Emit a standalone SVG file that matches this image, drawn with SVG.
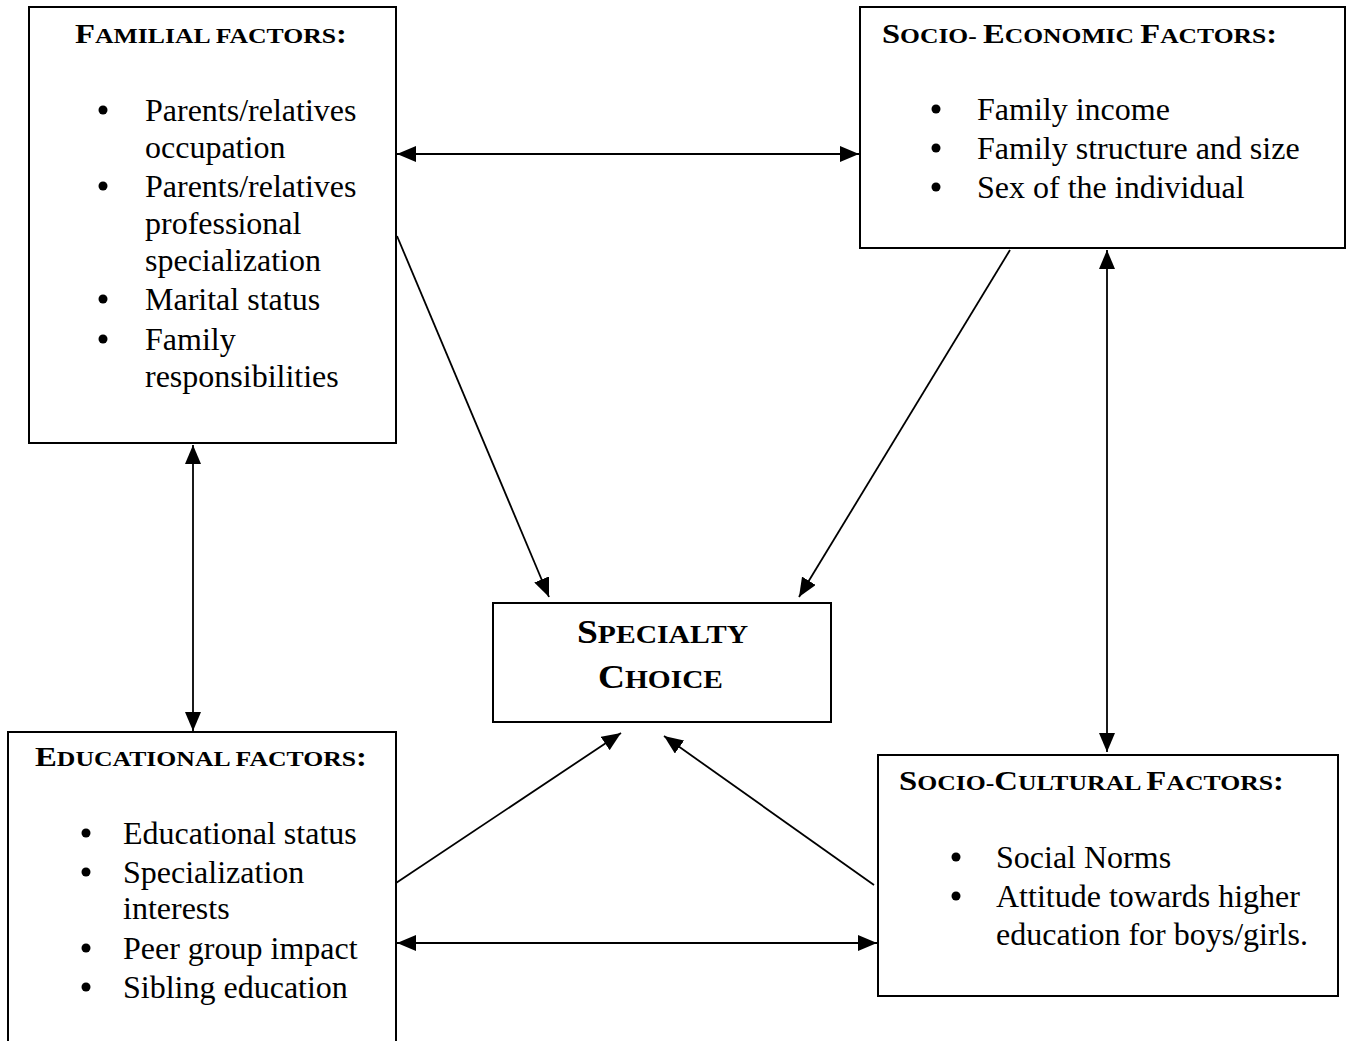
<svg xmlns="http://www.w3.org/2000/svg" width="1353" height="1041" viewBox="0 0 1353 1041">
<style>
.box{fill:#fff;stroke:#000;stroke-width:2}
.t{font-family:"Liberation Serif","Times New Roman",serif;font-size:32px;fill:#000}
.h{font-family:"Liberation Serif","Times New Roman",serif;font-weight:bold;fill:#000}
.B{font-size:28px}
.s{font-size:22px}
.SB{font-size:33px}
.ss{font-size:26px}
.con{stroke:#000;stroke-width:1.8;fill:none}
.dot{fill:#000}
</style>
<defs>
<marker id="ah" markerWidth="20" markerHeight="16" refX="19" refY="8" orient="auto-start-reverse" markerUnits="userSpaceOnUse">
<path d="M0,0 L19,8 L0,16 Z" fill="#000"/>
</marker>
</defs>
<rect width="1353" height="1041" fill="#fff"/>
<g id="connectors">
<line class="con" x1="397" y1="154" x2="859" y2="154" marker-start="url(#ah)" marker-end="url(#ah)"/>
<line class="con" x1="397" y1="236" x2="549" y2="597" marker-end="url(#ah)"/>
<line class="con" x1="1010" y1="250" x2="799" y2="597" marker-end="url(#ah)"/>
<line class="con" x1="1107" y1="250" x2="1107" y2="752" marker-start="url(#ah)" marker-end="url(#ah)"/>
<line class="con" x1="193" y1="445" x2="193" y2="731" marker-start="url(#ah)" marker-end="url(#ah)"/>
<line class="con" x1="393" y1="885" x2="621" y2="733" marker-end="url(#ah)"/>
<line class="con" x1="874" y1="885" x2="664" y2="736" marker-end="url(#ah)"/>
<line class="con" x1="397" y1="943" x2="877" y2="943" marker-start="url(#ah)" marker-end="url(#ah)"/>
</g>
<g id="familial">
<rect class="box" x="29" y="7" width="367" height="436"/>
<text class="h" x="75" y="43" textLength="272" lengthAdjust="spacingAndGlyphs"><tspan class="B">F</tspan><tspan class="s">AMILIAL FACTORS</tspan><tspan class="B">:</tspan></text>
<circle class="dot" cx="103" cy="110" r="4.5"/>
<circle class="dot" cx="103" cy="186" r="4.5"/>
<circle class="dot" cx="103" cy="299" r="4.5"/>
<circle class="dot" cx="103" cy="339" r="4.5"/>
<text class="t" x="145" y="121">Parents/relatives</text>
<text class="t" x="145" y="158">occupation</text>
<text class="t" x="145" y="197">Parents/relatives</text>
<text class="t" x="145" y="234">professional</text>
<text class="t" x="145" y="271">specialization</text>
<text class="t" x="145" y="310">Marital status</text>
<text class="t" x="145" y="350">Family</text>
<text class="t" x="145" y="387">responsibilities</text>
</g>
<g id="socio-economic">
<rect class="box" x="860" y="7" width="485" height="241"/>
<text class="h" x="882" y="43" textLength="395" lengthAdjust="spacingAndGlyphs"><tspan class="B">S</tspan><tspan class="s">OCIO- </tspan><tspan class="B">E</tspan><tspan class="s">CONOMIC </tspan><tspan class="B">F</tspan><tspan class="s">ACTORS</tspan><tspan class="B">:</tspan></text>
<circle class="dot" cx="936" cy="109" r="4.5"/>
<circle class="dot" cx="936" cy="148" r="4.5"/>
<circle class="dot" cx="936" cy="187" r="4.5"/>
<text class="t" x="977" y="120">Family income</text>
<text class="t" x="977" y="159">Family structure and size</text>
<text class="t" x="977" y="198">Sex of the individual</text>
</g>
<g id="specialty-choice">
<rect class="box" x="493" y="603" width="338" height="119"/>
<text class="h" x="577" y="643" textLength="171" lengthAdjust="spacingAndGlyphs"><tspan class="SB">S</tspan><tspan class="ss">PECIALTY</tspan></text>
<text class="h" x="598" y="688" textLength="125" lengthAdjust="spacingAndGlyphs"><tspan class="SB">C</tspan><tspan class="ss">HOICE</tspan></text>
</g>
<g id="educational">
<rect class="box" x="8" y="732" width="388" height="330"/>
<text class="h" x="35" y="766" textLength="332" lengthAdjust="spacingAndGlyphs"><tspan class="B">E</tspan><tspan class="s">DUCATIONAL FACTORS</tspan><tspan class="B">:</tspan></text>
<circle class="dot" cx="86" cy="833" r="4.5"/>
<circle class="dot" cx="86" cy="872" r="4.5"/>
<circle class="dot" cx="86" cy="948" r="4.5"/>
<circle class="dot" cx="86" cy="987" r="4.5"/>
<text class="t" x="123" y="844">Educational status</text>
<text class="t" x="123" y="883">Specialization</text>
<text class="t" x="123" y="919">interests</text>
<text class="t" x="123" y="959">Peer group impact</text>
<text class="t" x="123" y="998">Sibling education</text>
</g>
<g id="socio-cultural">
<rect class="box" x="878" y="755" width="460" height="241"/>
<text class="h" x="899" y="790" textLength="385" lengthAdjust="spacingAndGlyphs"><tspan class="B">S</tspan><tspan class="s">OCIO-</tspan><tspan class="B">C</tspan><tspan class="s">ULTURAL </tspan><tspan class="B">F</tspan><tspan class="s">ACTORS</tspan><tspan class="B">:</tspan></text>
<circle class="dot" cx="956" cy="857" r="4.5"/>
<circle class="dot" cx="956" cy="896" r="4.5"/>
<text class="t" x="996" y="868">Social Norms</text>
<text class="t" x="996" y="907">Attitude towards higher</text>
<text class="t" x="996" y="945">education for boys/girls.</text>
</g>
</svg>
